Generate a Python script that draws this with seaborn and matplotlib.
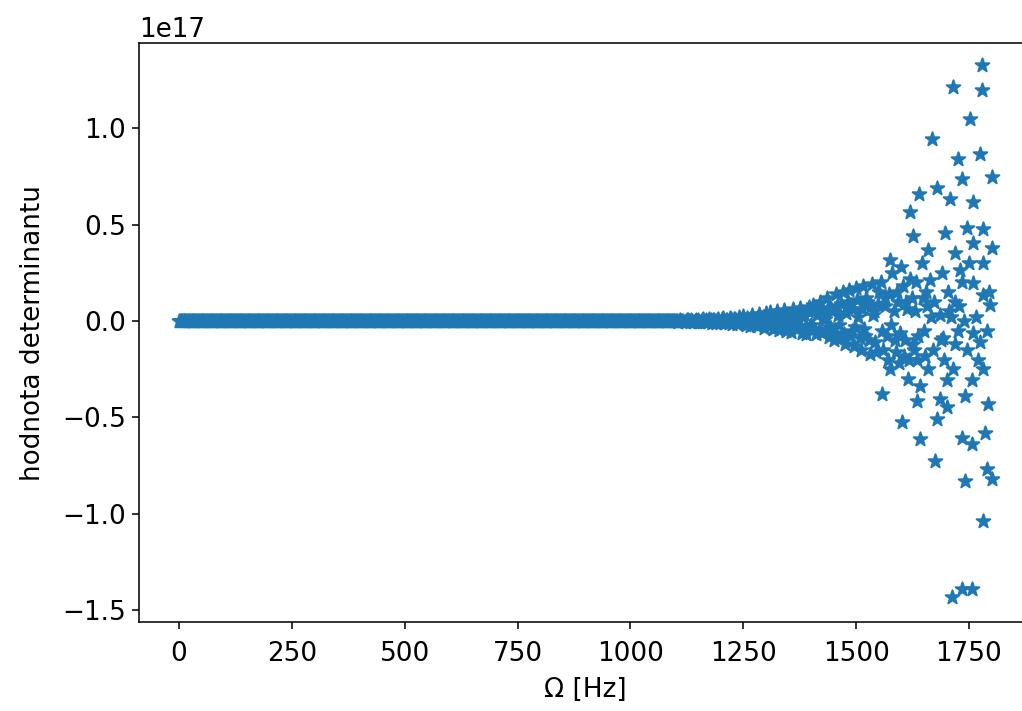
import numpy as np
import pandas as pd
import matplotlib
matplotlib.use("Agg")
import matplotlib.pyplot as plt
import seaborn as sns

# ---- data (determinant value in units of 1e17) ----
# flat part: sampling grid 0..1098 Hz, determinant ~0 at this scale
flat_omega = np.arange(0, 1100, 2)
flat_det = [0.0] * len(flat_omega)

# growing oscillation, 1100..1550 Hz
mid_omega = np.arange(1100, 1555, 5)
mid_det = [
    0.002, -0.003, 0.004, 0.001, -0.004, 0.005, -0.002, 0.003, -0.005, 0.004,
    0.006, -0.004, 0.008, -0.007, 0.002, 0.009, -0.008, 0.005, -0.010, 0.011,
    -0.006, 0.015, -0.012, 0.004, 0.018, -0.015, 0.010, -0.018, 0.022, -0.005,
    0.025, -0.020, 0.008, -0.028, 0.030, 0.012, -0.025, 0.035, -0.010, -0.035,
    0.040, -0.015, 0.045, -0.040, 0.020, 0.050, -0.045, 0.010, 0.055, -0.050,
    0.030, -0.055, 0.060, 0.015, -0.040, 0.070, -0.060, 0.035, -0.065, 0.075,
    -0.020, 0.085, -0.070, 0.040, 0.100, -0.060, 0.010, 0.120, -0.085, 0.060,
    -0.100, 0.140, 0.030, -0.090, 0.150, -0.120, 0.080, 0.160, -0.050, -0.130,
    0.170, 0.020, -0.150, 0.180, -0.080, 0.100, -0.170, 0.190, 0.050, -0.160,
    0.150,
]

# in-between samples of the same range (fill the oscillating band)
mid2_omega = np.arange(1102.5, 1550, 5)
mid2_det = [
    0.001, -0.001, 0.002, -0.002, 0.001, 0.003, -0.003, 0.002, -0.002, 0.001,
    -0.003, 0.004, -0.005, 0.006, -0.004, 0.003, 0.005, -0.006, 0.004, -0.003,
    0.008, -0.007, 0.005, -0.009, 0.010, -0.004, 0.012, -0.010, 0.006, 0.009,
    -0.012, 0.015, -0.008, 0.018, -0.015, 0.010, 0.020, -0.018, 0.012, -0.005,
    0.022, -0.025, 0.012, 0.028, -0.020, -0.030, 0.025, 0.032, -0.015, 0.020,
    -0.035, 0.040, -0.020, 0.038, 0.045, -0.030, 0.020, -0.045, 0.050, -0.025,
    0.055, -0.040, 0.030, -0.050, 0.060, 0.015, -0.045, 0.070, -0.030, 0.050,
    -0.060, 0.080, -0.020, 0.090, -0.070, 0.040, 0.100, -0.080, 0.060, -0.030,
    0.110, -0.090, 0.060, -0.040, 0.120, -0.100, 0.080, 0.030, -0.110, 0.090,
]

# sparse, large values near the end of the range
tail_omega = [
    1778, 1715, 1778, 1752, 1667, 1774, 1726, 1800, 1734, 1680, 1640,
    1708, 1760, 1619, 1627, 1697, 1745, 1782, 1800, 1660, 1719, 1760,
    1575, 1730, 1760, 1782, 1797, 1664,
    1693, 1760, 1774, 1575, 1557, 1642, 1701, 1756, 1782, 1634, 1686,
    1741, 1701, 1793, 1601, 1679, 1642, 1734, 1786, 1756, 1675, 1741,
    1789, 1800, 1782, 1712, 1734, 1756,
    1555, 1560, 1565, 1570, 1580, 1585, 1590, 1595, 1600, 1605, 1610,
    1615, 1620, 1625, 1630, 1635, 1645, 1650, 1655, 1660, 1665, 1670,
    1685, 1690, 1695, 1705, 1710, 1715, 1720, 1725, 1735, 1740, 1745,
    1750, 1765, 1770, 1780, 1790, 1795,
    1558, 1563, 1568, 1573, 1578, 1583, 1588, 1593, 1598, 1603, 1608,
    1613, 1618, 1623, 1628, 1633, 1638, 1648, 1653, 1658, 1673, 1688,
    1703, 1718, 1728,
]
tail_det = [
    1.33, 1.216, 1.20, 1.05, 0.946, 0.868, 0.842, 0.746, 0.737, 0.69, 0.66,
    0.632, 0.615, 0.563, 0.44, 0.458, 0.485, 0.476, 0.38, 0.37, 0.354, 0.406,
    0.319, 0.267, 0.197, 0.136, 0.084, 0.214,
    -0.09, -0.064, -0.108, -0.247, -0.378, -0.335, -0.308, -0.308, -0.247, -0.413, -0.404,
    -0.387, -0.448, -0.43, -0.526, -0.509, -0.613, -0.605, -0.579, -0.639, -0.727, -0.831,
    -0.77, -0.822, -1.04, -1.432, -1.389, -1.389,
    0.20, -0.15, 0.12, -0.20, 0.25, -0.10, 0.15, -0.22, 0.28, -0.18, 0.10,
    -0.30, 0.22, -0.12, 0.05, -0.20, 0.30, -0.05, 0.15, -0.25, 0.02, -0.15,
    0.03, 0.25, -0.20, 0.05, 0.02, -0.25, 0.10, -0.05, 0.20, 0.00, -0.15,
    0.30, 0.02, -0.20, 0.30, -0.05, 0.15,
    -0.05, 0.08, -0.08, 0.14, -0.02, 0.05, -0.16, 0.10, -0.06, 0.18, -0.10,
    0.06, -0.20, 0.12, -0.15, 0.20, -0.08, 0.12, -0.18, 0.08, 0.10, -0.10,
    0.15, -0.12, 0.08,
]

omega = np.concatenate([flat_omega, mid_omega, mid2_omega, np.array(tail_omega)])
det = np.concatenate([np.array(flat_det), np.array(mid_det), np.array(mid2_det),
                      np.array(tail_det)]) * 1e17
df = pd.DataFrame({"omega": omega, "det": det})

# ---- figure ----
plt.rcParams["font.family"] = ["DejaVu Sans"]
plt.rcParams["font.size"] = 13.5
fig = plt.figure(figsize=(1022 / 140, 711 / 140), dpi=140)
ax = fig.add_axes([139.3 / 1022, (711 - 622) / 711, (1032 - 139.3) / 1022, (622 - 43.3) / 711])

sns.scatterplot(data=df, x="omega", y="det", marker="*", s=55,
                color="#1f77b4", edgecolor="#1f77b4", linewidth=1.0, ax=ax)

ax.set_xlim(-88, 1889.6)
ax.set_ylim(-1.562e17, 1.441e17)
ax.set_xticks([0, 250, 500, 750, 1000, 1250, 1500, 1750])
ax.set_yticks([-1.5e17, -1.0e17, -0.5e17, 0, 0.5e17, 1.0e17])
ax.tick_params(axis="x", pad=6.5)
ax.set_xlabel("Ω [Hz]", labelpad=5)
ax.set_ylabel("hodnota determinantu", labelpad=8)

fig.savefig("out.png", dpi=140)
